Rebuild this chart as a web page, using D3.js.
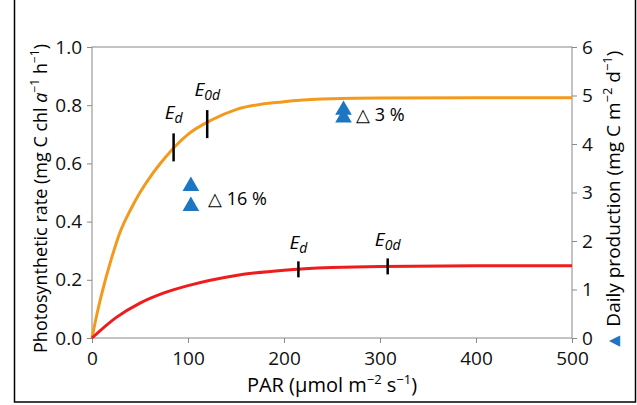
<!DOCTYPE html><html><head><script src="https://cdn.jsdelivr.net/npm/d3@7"></script>
<style>body{margin:0;background:#fff}text{font-family:"Open Sans","Noto Sans",sans-serif}</style></head><body>
<svg id="c" width="637" height="405"></svg>
<script>
const orange=[[0,0],[5,0.08],[10,0.15],[20,0.27],[30,0.37],[40,0.44],[50,0.50],[62,0.56],[75,0.615],[87,0.66],[100,0.70],[125,0.75],[150,0.785],[200,0.812],[250,0.822],[300,0.825],[400,0.826],[500,0.826]];
const red=[[0,0],[25,0.07],[50,0.12],[75,0.155],[100,0.18],[150,0.215],[200,0.233],[250,0.242],[300,0.246],[400,0.248],[500,0.248]];
const tri=[[103,3.13],[103,2.72],[262,4.70],[262,4.54]];
const marksO=[[85,0.655,"d"],[120,0.735,"0d"]];
const marksR=[[215,0.236,"d"],[308,0.246,"0d"]];
const xTicks=[0,100,200,300,400,500],yTicks=[0,0.2,0.4,0.6,0.8,1.0],y2Ticks=[0,1,2,3,4,5,6];
const svg=d3.select("#c");
svg.append("rect").attr("x",14.5).attr("y",-2).attr("width",621).attr("height",404).attr("fill","none").attr("stroke","#000").attr("stroke-width",1.5);
const L=92,R=572,T=47,B=338;
const x=d3.scaleLinear().domain([0,500]).range([L,R]);
const y=d3.scaleLinear().domain([0,1]).range([B,T]);
const y2=d3.scaleLinear().domain([0,6]).range([B,T]);
svg.append("rect").attr("x",L).attr("y",T).attr("width",R-L).attr("height",B-T).attr("fill","none").attr("stroke","#888");
const st=g=>{g.attr("font-size",null);g.select(".domain").remove();g.selectAll("line").attr("stroke","#888");g.selectAll("text").style("font-size","19px").attr("fill","#111");};
svg.append("g").attr("transform",`translate(0,${B})`).call(d3.axisBottom(x).tickValues(xTicks).tickSize(5).tickPadding(9)).call(st);
svg.append("g").attr("transform",`translate(${L},0)`).call(d3.axisLeft(y).tickValues(yTicks).tickFormat(d3.format(".1f")).tickSize(5).tickPadding(5)).call(st);
svg.append("g").attr("transform",`translate(${R},0)`).call(d3.axisRight(y2).tickValues(y2Ticks).tickFormat(d3.format("d")).tickSize(5).tickPadding(5)).call(st);
const line=d3.line().x(d=>x(d[0])).y(d=>y(d[1])).curve(d3.curveMonotoneX);
svg.append("path").attr("d",line(orange)).attr("fill","none").attr("stroke","#f39a1c").attr("stroke-width",3);
svg.append("path").attr("d",line(red)).attr("fill","none").attr("stroke","#ee1c1c").attr("stroke-width",3);
function marks(arr,h,dy){arr.forEach(m=>{svg.append("line").attr("x1",x(m[0])).attr("x2",x(m[0])).attr("y1",y(m[1])-h).attr("y2",y(m[1])+h).attr("stroke","#000").attr("stroke-width",2.5);
const t=svg.append("text").attr("x",x(m[0])).attr("y",y(m[1])-dy).attr("text-anchor","middle").style("font-size","19px").attr("font-style","italic");
t.append("tspan").text("E");t.append("tspan").style("font-size","14px").attr("dy",4).text(m[2]);});}
marks(marksO,14,28);marks(marksR,8,20);
svg.selectAll(".tri").data(tri).join("path").attr("d",d3.symbol(d3.symbolTriangle,120)).attr("transform",d=>`translate(${x(d[0])},${y2(d[1])})`).attr("fill","#1c76c2");
svg.append("text").attr("x",208).attr("y",205).style("font-size","18px").text("△ 16 %");
svg.append("text").attr("x",356).attr("y",121).style("font-size","18px").text("△ 3 %");
svg.append("text").attr("x",(L+R)/2).attr("y",392).attr("text-anchor","middle").style("font-size","20px").html('PAR (μmol m<tspan dy="-8" font-size="13">−2</tspan><tspan dy="8"> s</tspan><tspan dy="-8" font-size="13">−1</tspan><tspan dy="8">)</tspan>');
svg.append("text").attr("transform",`translate(47,${(T+B)/2+6}) rotate(-90)`).attr("text-anchor","middle").style("font-size","18px").html('Photosynthetic rate (mg C chl <tspan font-style="italic">a</tspan><tspan dy="-8" font-size="12">−1</tspan><tspan dy="8"> h</tspan><tspan dy="-8" font-size="12">−1</tspan><tspan dy="8">)</tspan>');
const g2=svg.append("g").attr("transform",`translate(620,${(T+B)/2+8}) rotate(-90)`);
g2.append("text").attr("text-anchor","middle").style("font-size","19px").html('<tspan fill="#1c76c2">▲</tspan> Daily production (mg C m<tspan dy="-8" font-size="13">−2</tspan><tspan dy="8"> d</tspan><tspan dy="-8" font-size="13">−1</tspan><tspan dy="8">)</tspan>');
</script></body></html>
